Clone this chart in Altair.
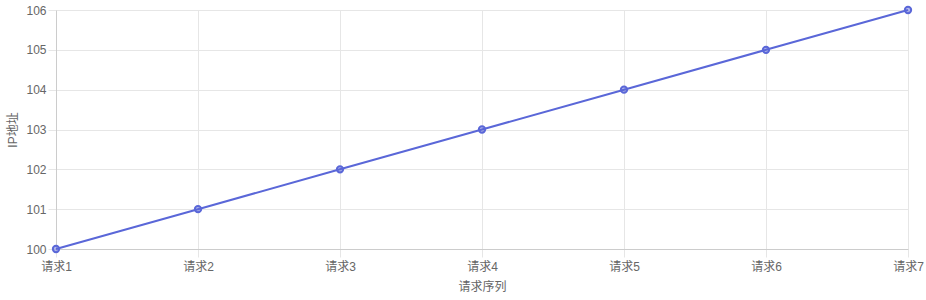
import altair as alt
import pandas as pd

requests = ["请求1", "请求2", "请求3", "请求4", "请求5", "请求6", "请求7"]
ips = [100, 101, 102, 103, 104, 105, 106]

df = pd.DataFrame({"请求序列": requests, "IP地址": ips})

FONT = "Liberation Sans, Noto Sans CJK SC, sans-serif"
COLOR = "#5a67d8"

x = alt.X("请求序列:N", sort=requests, scale=alt.Scale(padding=0),
          axis=alt.Axis(labelAngle=0, title="请求序列", grid=True))
y = alt.Y("IP地址:Q", scale=alt.Scale(domain=[100, 106], nice=False, zero=False),
          axis=alt.Axis(values=ips, format="d", title="IP地址"))

line = alt.Chart(df).mark_line(color=COLOR, strokeWidth=2).encode(x=x, y=y)
pts = alt.Chart(df).mark_point(filled=True, shape="circle", size=40,
                               fill=COLOR, fillOpacity=0.45,
                               stroke=COLOR, strokeWidth=2, opacity=1).encode(x=x, y=y)

chart = (line + pts).properties(
    width=852, height=239,
    autosize=alt.AutoSizeParams(type="none"),
    padding={"left": 56, "top": 10, "right": 18, "bottom": 51},
).configure_view(stroke=None).configure_axis(
    labelFont=FONT, titleFont=FONT, labelFontSize=12, titleFontSize=12,
    labelColor="#666666", titleColor="#666666", titleFontWeight="normal",
    gridColor="#e6e6e6", domainColor="#cccccc", tickColor="#e6e6e6",
    tickSize=8,
).configure_axisY(
    titlePadding=6, labelPadding=2,
).configure_axisX(
    titlePadding=9, labelPadding=4, labelFlush=False,
)

chart.save("out.html", embed_options={"renderer": "svg", "actions": False})
